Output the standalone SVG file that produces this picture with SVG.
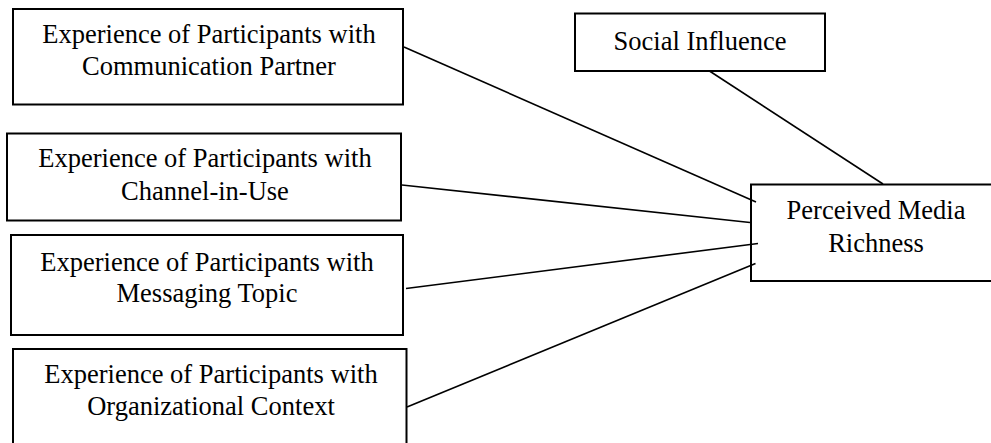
<svg xmlns="http://www.w3.org/2000/svg" width="991" height="443" viewBox="0 0 991 443">
<style>
.box{fill:#fff;stroke:#000;stroke-width:2}
.t{font-family:"Liberation Serif","Times New Roman",serif;font-size:26.5px;fill:#000;text-anchor:middle}
.c line{stroke:#000;stroke-width:1.6}
</style>
<rect width="991" height="443" fill="#fff"/>
<g id="n1"><rect class="box" x="13" y="9" width="390" height="95.5"/>
<text class="t" x="209" y="43">Experience of Participants with</text>
<text class="t" x="209" y="75">Communication Partner</text></g>
<g id="n2"><rect class="box" x="7" y="133.5" width="394" height="87"/>
<text class="t" x="205" y="167">Experience of Participants with</text>
<text class="t" x="205" y="199.5">Channel-in-Use</text></g>
<g id="n3"><rect class="box" x="11" y="235" width="392" height="100"/>
<text class="t" x="207" y="271">Experience of Participants with</text>
<text class="t" x="207" y="302">Messaging Topic</text></g>
<g id="n4"><rect class="box" x="13" y="349" width="393.5" height="100"/>
<text class="t" x="211" y="382.5">Experience of Participants with</text>
<text class="t" x="211" y="415">Organizational Context</text></g>
<g id="n5"><rect class="box" x="575" y="13.5" width="250" height="57.5"/>
<text class="t" x="700" y="49.5">Social Influence</text></g>
<g id="n6"><rect class="box" x="751" y="184.5" width="250" height="96.5"/>
<text class="t" x="876" y="219">Perceived Media</text>
<text class="t" x="876" y="251.5">Richness</text></g>
<g class="c" id="connectors">
<line x1="404" y1="47" x2="756" y2="202"/>
<line x1="402" y1="185" x2="750" y2="222.5"/>
<line x1="406" y1="288.5" x2="758" y2="243.5"/>
<line x1="407" y1="407" x2="755.5" y2="263.5"/>
<line x1="709.5" y1="71" x2="883" y2="184"/>
</g>
</svg>
